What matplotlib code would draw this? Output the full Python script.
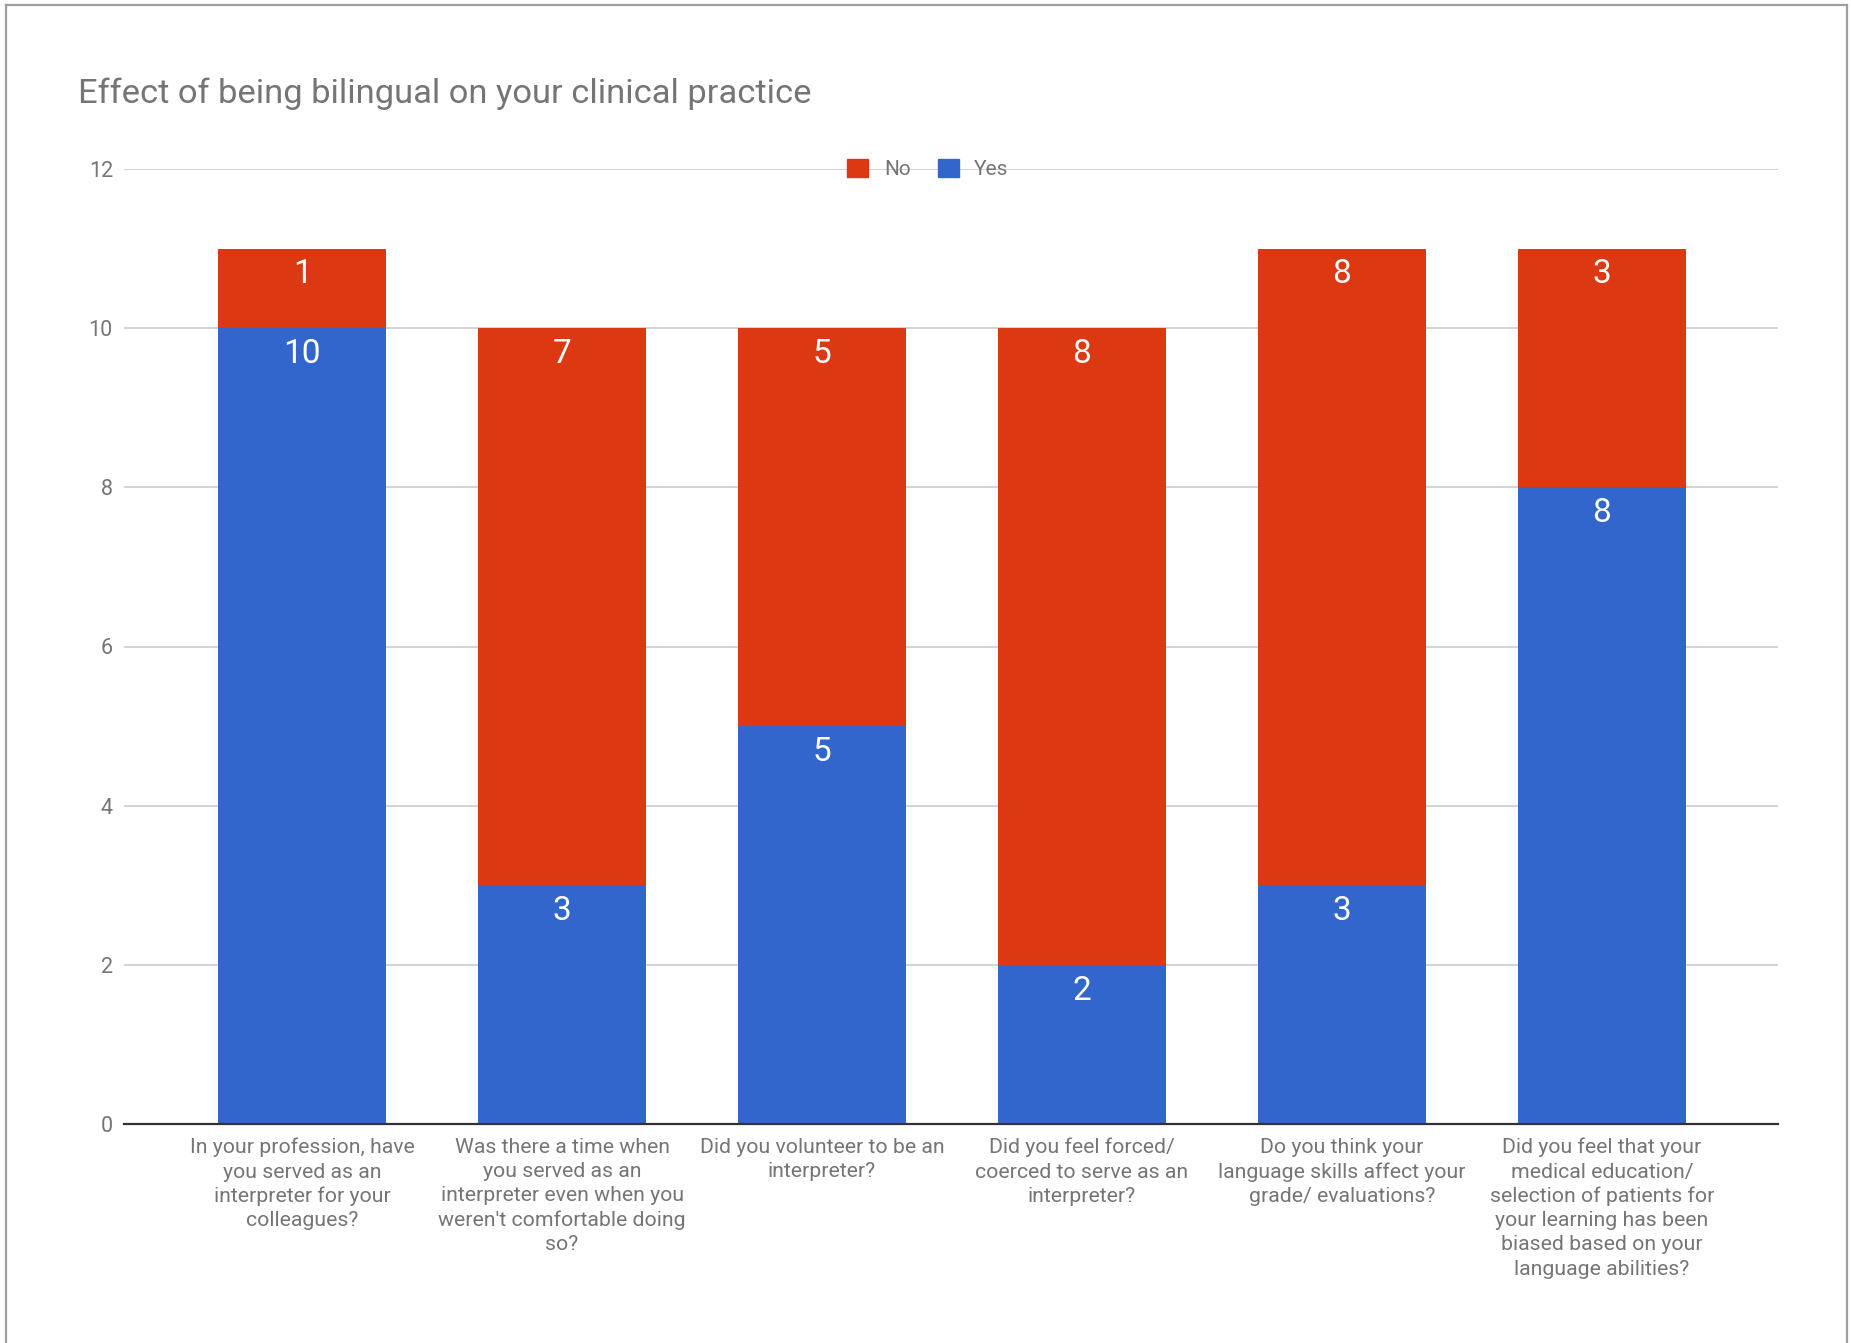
import matplotlib
matplotlib.use("Agg")
import matplotlib.pyplot as plt
from matplotlib.patches import Patch
from matplotlib.lines import Line2D

plt.rcParams['font.family'] = ['Roboto', 'DejaVu Sans']

# Survey questions (wrapped as shown under each bar)
categories = [
    "In your profession, have\nyou served as an\ninterpreter for your\ncolleagues?",
    "Was there a time when\nyou served as an\ninterpreter even when you\nweren't comfortable doing\nso?",
    "Did you volunteer to be an\ninterpreter?",
    "Did you feel forced/\ncoerced to serve as an\ninterpreter?",
    "Do you think your\nlanguage skills affect your\ngrade/ evaluations?",
    "Did you feel that your\nmedical education/\nselection of patients for\nyour learning has been\nbiased based on your\nlanguage abilities?",
]
yes_counts = [10, 3, 5, 2, 3, 8]
no_counts = [1, 7, 5, 8, 8, 3]
y_ticks = [0, 2, 4, 6, 8, 10, 12]

BLUE = "#3366CC"
RED = "#DC3912"
GRAY_TEXT = "#757575"
GRID = "#CCCCCC"

W, H, DPI = 1851, 1343, 100
fig = plt.figure(figsize=(W / DPI, H / DPI), dpi=DPI)
ax = fig.add_axes([124 / W, 1 - 1124 / H, (1778 - 124) / W, (1124 - 169) / H])

x = list(range(len(categories)))
bw = 0.646
ax.bar(x, yes_counts, width=bw, color=BLUE, zorder=3, label="Yes")
ax.bar(x, no_counts, width=bw, bottom=yes_counts, color=RED, zorder=3, label="No")

# Value labels just inside the top of each segment
for xi, yv, nv in zip(x, yes_counts, no_counts):
    for top, val in ((yv, yv), (yv + nv, nv)):
        ax.annotate(str(val), xy=(xi, top), xytext=(0, -18.5), textcoords="offset points",
                    ha="center", va="center", color="white", fontsize=24, zorder=5)

ax.set_xlim(-0.685, 5.677)
ax.set_ylim(0, 12)
ax.set_yticks(y_ticks)
ax.set_yticklabels([str(t) for t in y_ticks])
ax.yaxis.grid(True, color=GRID, linewidth=1.2, zorder=0)
ax.set_axisbelow(True)
for side in ("top", "right", "left"):
    ax.spines[side].set_visible(False)
ax.spines["bottom"].set_color("#333333")
ax.spines["bottom"].set_linewidth(1.6)
ax.spines["bottom"].set_zorder(4)
ax.tick_params(axis="y", length=0, pad=8, labelsize=15.5, labelcolor=GRAY_TEXT)
ax.tick_params(axis="x", length=0, pad=10, labelsize=15.3, labelcolor=GRAY_TEXT)
ax.set_xticks(x)
ax.set_xticklabels(categories, linespacing=1.34, va="top", ha="center")

# Legend sitting on the top gridline
handles = [Patch(facecolor=RED, edgecolor=RED, label="No"),
           Patch(facecolor=BLUE, edgecolor=BLUE, label="Yes")]
leg = ax.legend(handles=handles, loc="center", bbox_to_anchor=((928 - 124) / 1654, 1.0),
                ncol=2, frameon=False, fontsize=15, handlelength=1.0, handleheight=1.0,
                handletextpad=0.75, columnspacing=1.3, labelcolor=GRAY_TEXT,
                borderaxespad=0, borderpad=0)

# Title
fig.text(78 / W, 1 - 103 / H, "Effect of being bilingual on your clinical practice",
         fontsize=24.8, color=GRAY_TEXT, ha="left", va="baseline")

# Outer frame (left, top, right edges)
frame_kw = dict(color="#9E9E9E", linewidth=1.6, transform=fig.transFigure)
fig.add_artist(Line2D([6 / W, 6 / W], [0, 1 - 5 / H], **frame_kw))
fig.add_artist(Line2D([6 / W, 1847 / W], [1 - 5 / H, 1 - 5 / H], **frame_kw))
fig.add_artist(Line2D([1847 / W, 1847 / W], [0, 1 - 5 / H], **frame_kw))

fig.savefig("out.png", dpi=DPI, facecolor="white")
